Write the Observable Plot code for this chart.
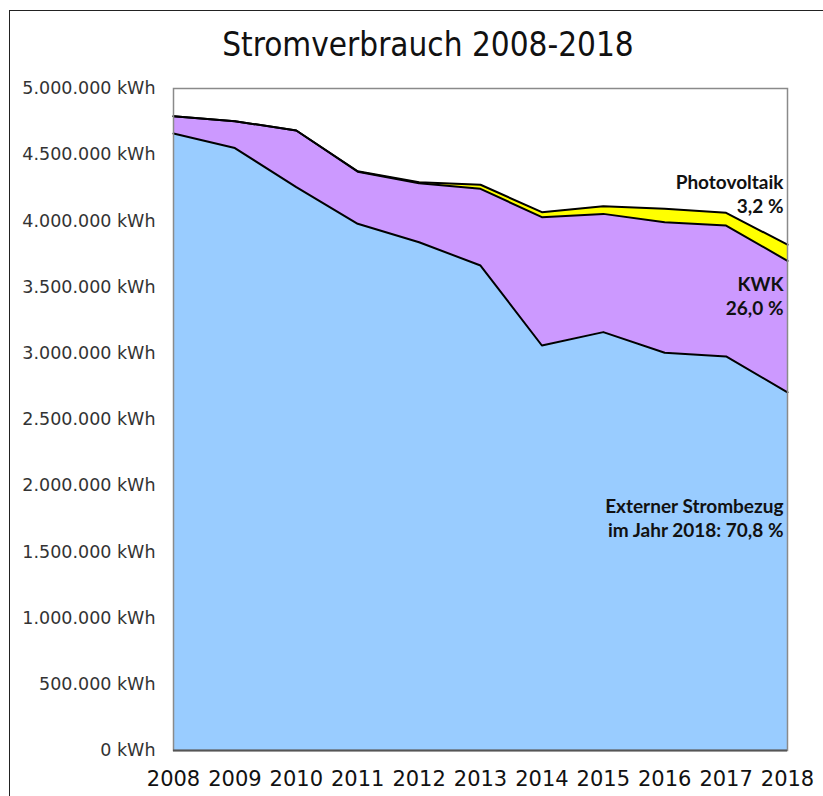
<!DOCTYPE html>
<html>
<head>
<meta charset="utf-8">
<script src="https://cdn.jsdelivr.net/npm/d3@7"></script>
<script src="https://cdn.jsdelivr.net/npm/@observablehq/plot@0.6"></script>
<style>
  html, body { margin: 0; padding: 0; background: #fff; overflow: hidden; }
  #wrap { position: relative; width: 823px; height: 796px; }
  #border { position: absolute; left: 9px; top: 10px; width: 900px; height: 900px; border: 1px solid #222; box-sizing: border-box; }
  #title { position: absolute; left: 0; top: 0; width: 856px; height: 70px; text-align: center;
           font-family: "DejaVu Sans Condensed", "DejaVu Sans", sans-serif; font-stretch: condensed; font-size: 33px; line-height: 90px; color: #111; }
  #chart { position: absolute; left: 0; top: 70px; }
</style>
</head>
<body>
<div id="wrap">
  <div id="border"></div>
  <div id="title">Stromverbrauch 2008-2018</div>
  <div id="chart"></div>
</div>
<script>
const years = [2008, 2009, 2010, 2011, 2012, 2013, 2014, 2015, 2016, 2017, 2018];
const extern = [4660000, 4550000, 4255000, 3978000, 3839000, 3663000, 3059000, 3160000, 3004000, 2976000, 2705000];
const kwk    = [131000, 203000, 428000, 394000, 446000, 579000, 969000, 893000, 986000, 989000, 993000];
const pv     = [0, 0, 0, 3000, 7000, 31000, 38000, 58000, 101000, 96000, 122000];
const seriesNames = ["Externer Strombezug", "KWK", "Photovoltaik"];
const seriesColors = ["#99CCFF", "#CC99FF", "#FFFF00"];
const yTicks = [0, 500000, 1000000, 1500000, 2000000, 2500000, 3000000, 3500000, 4000000, 4500000, 5000000];
const labels = [
  {text: "Photovoltaik\n3,2 %", year: 2018, value: 4210000},
  {text: "KWK\n26,0 %", year: 2018, value: 3437000},
  {text: "Externer Strombezug\nim Jahr 2018: 70,8 %", year: 2018, value: 1760000}
];

const table = [];
[extern, kwk, pv].forEach((vals, i) => {
  years.forEach((yr, j) => table.push({year: yr, value: vals[j], series: seriesNames[i]}));
});

const fmt = d => d3.format(",")(d).replace(/,/g, ".") + " kWh";

const chart = Plot.plot({
  width: 823,
  height: 726,
  marginTop: 18,
  marginBottom: 46,
  marginLeft: 173,
  marginRight: 36,
  style: {fontFamily: "DejaVu Sans, sans-serif", background: "transparent"},
  x: {domain: [2008, 2018], ticks: years, tickFormat: d => String(d), label: null},
  y: {domain: [0, 5000000], ticks: yTicks, label: null},
  color: {domain: seriesNames, range: seriesColors},
  marks: [
    Plot.areaY(table, {x: "year", y: "value", fill: "series", z: "series", order: seriesNames}),
    Plot.lineY(table, Plot.stackY2({x: "year", y: "value", z: "series", order: seriesNames, stroke: "#000", strokeWidth: 2})),
    Plot.frame({stroke: "#8a8a8a", strokeWidth: 1.5}),
    Plot.ruleY([0], {stroke: "#555", strokeWidth: 2}),
    Plot.axisY({ticks: yTicks, tickFormat: fmt, tickSize: 0, tickPadding: 18, fontSize: 17.5, fill: "#333"}),
    Plot.axisX({ticks: years, tickFormat: d => String(d), tickSize: 0, tickPadding: 21, fontSize: 21, fill: "#111"}),
    Plot.text(labels, {x: "year", y: "value", text: "text", textAnchor: "end", lineAnchor: "middle", dx: -4,
      fontFamily: "Lato, sans-serif", fontWeight: "bold", fontSize: 19, lineHeight: 1.27, fill: "#111"})
  ]
});
document.getElementById("chart").appendChild(chart);
</script>
</body>
</html>
